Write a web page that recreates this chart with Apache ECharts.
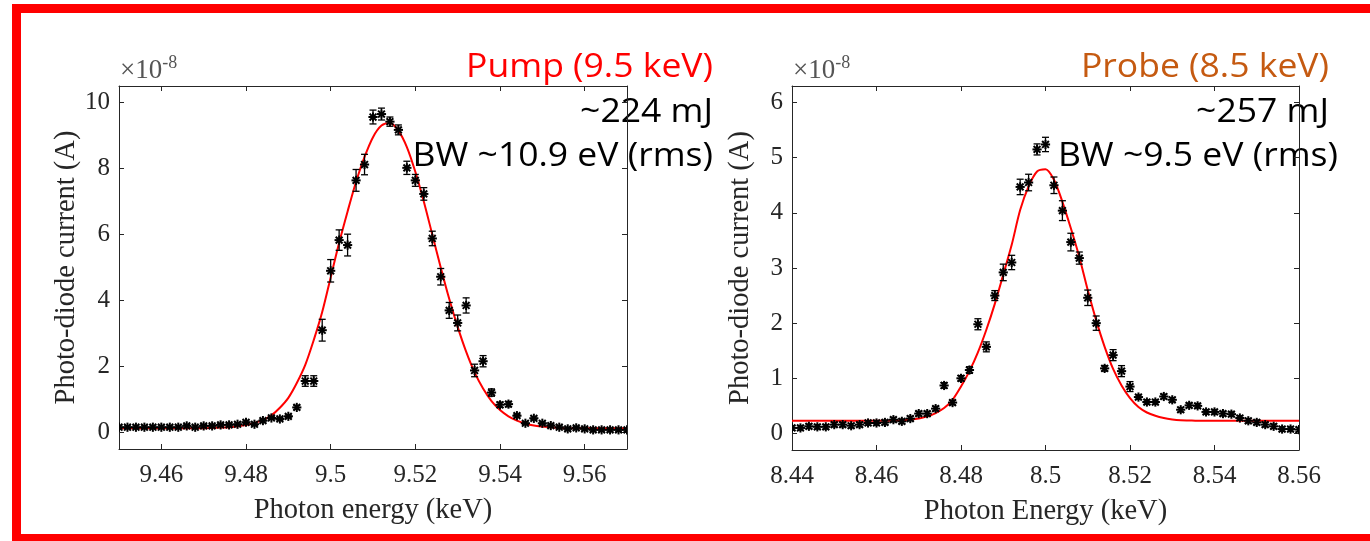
<!DOCTYPE html>
<html>
<head>
<meta charset="utf-8">
<script src="https://cdn.jsdelivr.net/npm/echarts@6/dist/echarts.min.js"></script>
<style>html,body{margin:0;padding:0;background:#fff}#c{width:1370px;height:541px}</style>
</head>
<body>
<div id="c"></div>
<script>
// ---------- Pump (left) ----------
const pumpEnergy = [9.450,9.452,9.454,9.456,9.458,9.460,9.462,9.464,9.466,9.468,9.470,9.472,9.474,9.476,9.478,9.480,9.482,9.484,9.486,9.488,9.490,9.492,9.494,9.496,9.498,9.500,9.502,9.504,9.506,9.508,9.510,9.512,9.514,9.516,9.518,9.520,9.522,9.524,9.526,9.528,9.530,9.532,9.534,9.536,9.538,9.540,9.542,9.544,9.546,9.548,9.550,9.552,9.554,9.556,9.558,9.560,9.562,9.564,9.566,9.568,9.570];
const pumpCurrent = [0.16,0.16,0.16,0.16,0.16,0.16,0.16,0.16,0.20,0.16,0.20,0.20,0.23,0.23,0.25,0.31,0.25,0.36,0.44,0.41,0.49,0.76,1.56,1.56,3.10,4.90,5.83,5.68,7.64,8.12,9.56,9.65,9.42,9.17,8.02,7.64,7.23,5.88,4.72,3.70,3.32,3.85,1.88,2.16,1.21,0.84,0.86,0.51,0.28,0.43,0.28,0.21,0.16,0.11,0.14,0.11,0.08,0.08,0.08,0.08,0.08];
const pumpError = [0.04,0.04,0.04,0.04,0.04,0.04,0.04,0.04,0.04,0.04,0.04,0.04,0.04,0.04,0.04,0.04,0.04,0.04,0.04,0.04,0.04,0.06,0.16,0.16,0.33,0.34,0.31,0.33,0.33,0.31,0.21,0.18,0.14,0.15,0.20,0.18,0.19,0.22,0.25,0.24,0.24,0.23,0.19,0.17,0.11,0.08,0.08,0.04,0.04,0.04,0.04,0.04,0.04,0.04,0.04,0.04,0.04,0.04,0.04,0.04,0.04];
const pumpFit = [0.13,0.13,0.13,0.13,0.13,0.13,0.13,0.13,0.13,0.13,0.13,0.14,0.15,0.16,0.19,0.23,0.29,0.38,0.52,0.75,1.05,1.50,2.05,2.80,3.65,4.70,5.75,6.70,7.60,8.35,8.95,9.30,9.38,9.15,8.65,7.90,7.00,6.00,5.00,4.05,3.20,2.45,1.82,1.33,0.95,0.68,0.49,0.36,0.27,0.21,0.18,0.16,0.14,0.13,0.13,0.13,0.13,0.13,0.13,0.13,0.13];
const pumpXTicks = [9.46, 9.48, 9.50, 9.52, 9.54, 9.56];
const pumpYTicks = [0, 2, 4, 6, 8, 10];

// ---------- Probe (right) ----------
const probeEnergy = [8.440,8.442,8.444,8.446,8.448,8.450,8.452,8.454,8.456,8.458,8.460,8.462,8.464,8.466,8.468,8.470,8.472,8.474,8.476,8.478,8.480,8.482,8.484,8.486,8.488,8.490,8.492,8.494,8.496,8.498,8.500,8.502,8.504,8.506,8.508,8.510,8.512,8.514,8.516,8.518,8.520,8.522,8.524,8.526,8.528,8.530,8.532,8.534,8.536,8.538,8.540,8.542,8.544,8.546,8.548,8.550,8.552,8.554,8.556,8.558,8.560];
const probeCurrent = [0.10,0.10,0.13,0.12,0.12,0.16,0.16,0.14,0.16,0.19,0.19,0.20,0.25,0.22,0.27,0.36,0.36,0.45,0.87,0.56,1.00,1.15,1.98,1.57,2.50,2.92,3.10,4.47,4.55,5.15,5.24,4.50,4.04,3.47,3.18,2.46,2.00,1.18,1.42,1.13,0.85,0.66,0.57,0.57,0.67,0.61,0.43,0.51,0.50,0.39,0.39,0.36,0.35,0.28,0.23,0.20,0.16,0.13,0.08,0.08,0.07];
const probeError = [0.04,0.04,0.04,0.04,0.04,0.04,0.04,0.04,0.04,0.04,0.04,0.04,0.04,0.04,0.04,0.04,0.04,0.04,0.05,0.04,0.05,0.06,0.10,0.09,0.09,0.15,0.13,0.14,0.15,0.10,0.13,0.15,0.18,0.16,0.11,0.14,0.13,0.05,0.10,0.10,0.09,0.04,0.04,0.04,0.04,0.04,0.04,0.04,0.04,0.04,0.04,0.04,0.04,0.04,0.04,0.04,0.04,0.04,0.04,0.04,0.04];
const probeFit = [0.23,0.23,0.23,0.23,0.23,0.23,0.23,0.23,0.23,0.23,0.23,0.23,0.23,0.24,0.25,0.27,0.31,0.37,0.46,0.61,0.85,1.13,1.47,1.88,2.35,2.88,3.42,4.05,4.48,4.75,4.79,4.60,4.20,3.72,3.20,2.60,2.05,1.57,1.17,0.87,0.64,0.48,0.38,0.32,0.28,0.255,0.24,0.235,0.23,0.23,0.23,0.23,0.23,0.23,0.23,0.23,0.23,0.23,0.23,0.23,0.23];
const probeXTicks = [8.44, 8.46, 8.48, 8.50, 8.52, 8.54, 8.56];
const probeYTicks = [0, 1, 2, 3, 4, 5, 6];

const AX = '#262626';
const SERIF = '"Liberation Serif", "Times New Roman", serif';
const SANS = '"Open Sans", "Noto Sans", sans-serif';

function fmt(v) { return String(parseFloat(v.toFixed(3))); }

function xAxes(gi, min, max, ticks, name) {
  const common = {
    type: 'value', gridIndex: gi, min: min, max: max,
    splitLine: { show: false },
    axisLine: { show: true, onZero: false, lineStyle: { color: AX, width: 1 } },
    axisTick: { show: true, inside: true, length: 5, customValues: ticks, lineStyle: { color: AX } }
  };
  return [
    Object.assign({}, common, {
      position: 'bottom',
      axisLabel: { show: true, customValues: ticks, formatter: fmt, color: AX, fontFamily: SERIF, fontSize: 25, margin: 14 },
      name: name, nameLocation: 'middle', nameGap: 47,
      nameTextStyle: { color: AX, fontFamily: SERIF, fontSize: 28.5 }
    }),
    Object.assign({}, common, { position: 'top', axisLabel: { show: false } })
  ];
}
function yAxes(gi, min, max, ticks, name) {
  const common = {
    type: 'value', gridIndex: gi, min: min, max: max,
    splitLine: { show: false },
    axisLine: { show: true, onZero: false, lineStyle: { color: AX, width: 1 } },
    axisTick: { show: true, inside: true, length: 5, customValues: ticks, lineStyle: { color: AX } }
  };
  return [
    Object.assign({}, common, {
      position: 'left',
      axisLabel: { show: true, customValues: ticks, formatter: fmt, color: AX, fontFamily: SERIF, fontSize: 25, margin: 9 },
      name: name, nameLocation: 'middle', nameGap: 37,
      nameTextStyle: { color: AX, fontFamily: SERIF, fontSize: 28.5 }
    }),
    Object.assign({}, common, { position: 'right', axisLabel: { show: false } })
  ];
}

function pts(xs, ys, es) { return xs.map((x, i) => es ? [x, ys[i], es[i]] : [x, ys[i]]); }

function renderErr(params, api) {
  const x = api.value(0), y = api.value(1), e = api.value(2);
  const p = api.coord([x, y]);
  const t = api.coord([x, y + e]);
  const b = api.coord([x, y - e]);
  const cap = 3.5, s = 4.6, d = 3.4;
  const st = { stroke: '#000', lineWidth: 1.3 };
  const sm = { stroke: '#000', lineWidth: 2 };
  return {
    type: 'group',
    children: [
      { type: 'line', shape: { x1: p[0], y1: t[1], x2: p[0], y2: b[1] }, style: st },
      { type: 'line', shape: { x1: p[0] - cap, y1: t[1], x2: p[0] + cap, y2: t[1] }, style: st },
      { type: 'line', shape: { x1: p[0] - cap, y1: b[1], x2: p[0] + cap, y2: b[1] }, style: st },
      { type: 'line', shape: { x1: p[0] - s, y1: p[1], x2: p[0] + s, y2: p[1] }, style: sm },
      { type: 'line', shape: { x1: p[0], y1: p[1] - s, x2: p[0], y2: p[1] + s }, style: sm },
      { type: 'line', shape: { x1: p[0] - d, y1: p[1] - d, x2: p[0] + d, y2: p[1] + d }, style: sm },
      { type: 'line', shape: { x1: p[0] - d, y1: p[1] + d, x2: p[0] + d, y2: p[1] - d }, style: sm }
    ]
  };
}

const chart = echarts.init(document.getElementById('c'), null, { renderer: 'canvas' });

const px = xAxes(0, 9.45, 9.57, pumpXTicks, 'Photon energy (keV)');
const rx = xAxes(1, 8.44, 8.56, probeXTicks, 'Photon Energy (keV)');
const py = yAxes(0, -0.5, 10.5, pumpYTicks, 'Photo-diode current (A)');
const ry = yAxes(1, -0.3, 6.3, probeYTicks, 'Photo-diode current (A)');

function sciText(x) {
  return {
    type: 'text', left: x, top: 54,
    style: {
      text: '{a|×10}{b|-8}',
      rich: {
        a: { fontFamily: SERIF, fontSize: 27, fill: '#555', verticalAlign: 'bottom', lineHeight: 30 },
        b: { fontFamily: SERIF, fontSize: 18, fill: '#555', verticalAlign: 'top', lineHeight: 30, padding: [0, 0, 12, 0] }
      }
    }
  };
}
function annot(x, y, text, color) {
  return { type: 'text', x: x, y: y, scaleX: 1.11, style: { text: text, fill: color, font: '32px ' + SANS, textAlign: 'right', textVerticalAlign: 'top' } };
}

chart.setOption({
  animation: false,
  backgroundColor: '#fff',
  grid: [
    { left: 119, top: 86, width: 508, height: 363 },
    { left: 792, top: 86, width: 507, height: 364 }
  ],
  xAxis: [px[0], px[1], rx[0], rx[1]],
  yAxis: [py[0], py[1], ry[0], ry[1]],
  series: [
    { type: 'line', xAxisIndex: 0, yAxisIndex: 0, data: pts(pumpEnergy, pumpFit), smooth: 0.3, showSymbol: false, symbol: 'none', lineStyle: { color: '#ff0000', width: 2 }, z: 2 },
    { type: 'custom', xAxisIndex: 0, yAxisIndex: 0, data: pts(pumpEnergy, pumpCurrent, pumpError), renderItem: renderErr, z: 3, clip: true },
    { type: 'line', xAxisIndex: 2, yAxisIndex: 2, data: pts(probeEnergy, probeFit), smooth: 0.3, showSymbol: false, symbol: 'none', lineStyle: { color: '#ff0000', width: 2 }, z: 2 },
    { type: 'custom', xAxisIndex: 2, yAxisIndex: 2, data: pts(probeEnergy, probeCurrent, probeError), renderItem: renderErr, z: 3, clip: true }
  ],
  graphic: [
    { type: 'rect', shape: { x: 12, y: 4, width: 1358, height: 9 }, style: { fill: '#ff0000' }, z: 100 },
    { type: 'rect', shape: { x: 12, y: 4, width: 9, height: 537 }, style: { fill: '#ff0000' }, z: 100 },
    { type: 'rect', shape: { x: 12, y: 534, width: 1358, height: 7 }, style: { fill: '#ff0000' }, z: 100 },
    sciText(120),
    sciText(793),
    annot(713, 52, 'Pump (9.5 keV)', '#ff0000'),
    annot(713, 97, '~224 mJ', '#000'),
    annot(713, 141, 'BW ~10.9 eV (rms)', '#000'),
    annot(1329, 52, 'Probe (8.5 keV)', '#c55a11'),
    annot(1329, 97, '~257 mJ', '#000'),
    annot(1338, 141, 'BW ~9.5 eV (rms)', '#000')
  ]
});
</script>
</body>
</html>
